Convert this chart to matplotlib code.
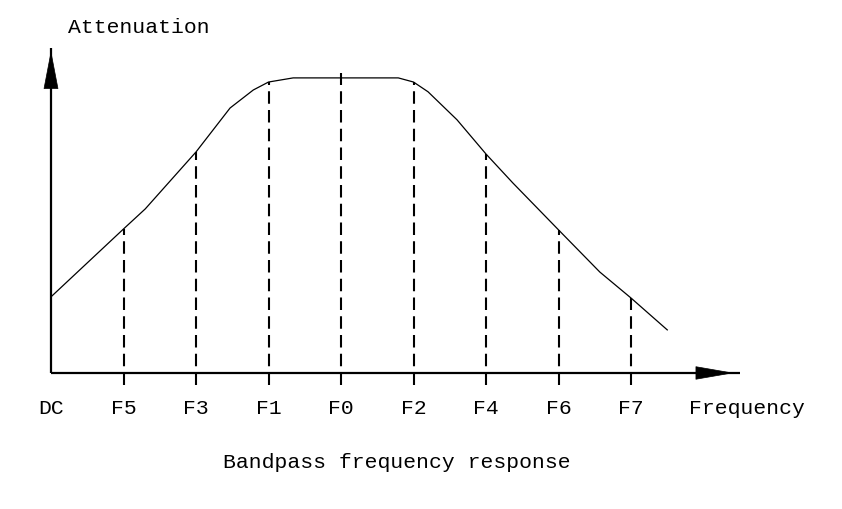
import matplotlib
matplotlib.use("Agg")
import matplotlib.pyplot as plt

# frequency marks, left to right (DC = 0)
labels = ["DC", "F5", "F3", "F1", "F0", "F2", "F4", "F6", "F7"]
mark_pos = [1, 2, 3, 4, 5, 6, 7, 8]
mark_top = [48.8, 74.9, 98.6, 101.7, 98.6, 74.2, 48.5, 25.4]

# response curve (polyline)
curve_x = [0, 1.0, 1.30, 2.0, 2.47, 2.79, 3.0, 3.34, 4.79, 5.0, 5.2, 5.6, 6.0, 6.37, 7.0, 7.57, 8.0, 8.5]
curve_y = [25.8, 48.8, 55.6, 74.9, 89.8, 95.9, 98.6, 100.0, 100.0, 98.6, 95.3, 85.8, 74.2, 64.4, 48.5, 34.2, 25.4, 14.6]

font = "Liberation Mono"
fs = 15.4

fig = plt.figure(figsize=(8.42, 5.09), dpi=100)
ax = fig.add_axes([0, 0, 1, 1])
ax.set_xlim(-0.7034, 10.91)
ax.set_ylim(-46.1, 126.4)
ax.axis("off")

# axes with arrows
ax.plot([0, 9.503], [0, 0], color="black", lw=1.6, solid_capstyle="butt")
ax.plot([0, 0], [0, 110.2], color="black", lw=1.6, solid_capstyle="butt")
ax.annotate("", xy=(0, 110.2), xytext=(0, 96),
            arrowprops=dict(arrowstyle="-|>,head_length=26,head_width=5",
                            mutation_scale=1, color="black", lw=0.5))
ax.annotate("", xy=(9.46, 0), xytext=(9.0, 0),
            arrowprops=dict(arrowstyle="-|>,head_length=26,head_width=4.5",
                            mutation_scale=1, color="black", lw=0.5))

# dashed verticals
for x, top in zip(mark_pos, mark_top):
    ax.plot([x, x], [-4.1, top], color="black", lw=1.5,
            linestyle=(0, (6, 3)), dash_capstyle="butt")

ax.plot(curve_x, curve_y, color="black", lw=0.9)

for i, lab in enumerate(labels):
    ax.text(i, -12.2, lab, ha="center", va="center", fontsize=fs, family=font)

ax.text(0.234, 117, "Attenuation", ha="left", va="center", fontsize=fs, family=font)
ax.text(8.8, -12.2, "Frequency", ha="left", va="center", fontsize=fs, family=font)
ax.text(4.77, -30.2, "Bandpass frequency response", ha="center", va="center",
        fontsize=fs, family=font)

fig.savefig("out.png", dpi=100)
